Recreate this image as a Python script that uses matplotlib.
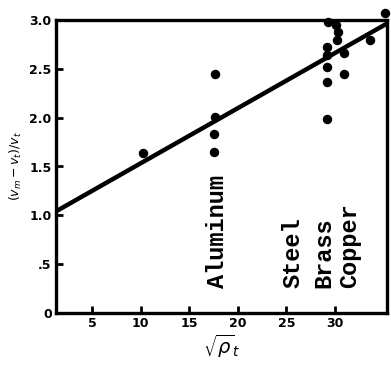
import matplotlib
matplotlib.use("Agg")
import matplotlib.pyplot as plt
import numpy as np

sqrt_rho = [10.25, 17.65, 17.65, 17.6, 17.6,
            29.2, 29.2, 29.2, 29.2, 29.2, 29.3,
            30.1, 30.2, 30.3, 30.9, 30.9, 33.6, 35.1]
ratio = [1.64, 2.45, 2.01, 1.83, 1.65,
         2.72, 2.64, 2.52, 2.36, 1.99, 2.98,
         2.95, 2.80, 2.88, 2.66, 2.45, 2.80, 3.07]

# straight line fit drawn through the points
fit_intercept = 0.967
fit_slope = 0.0565

materials = ["Aluminum", "Steel", "Brass", "Copper"]
material_x = [17.96, 25.7, 28.8, 31.5]

x_ticks = [5, 10, 15, 20, 25, 30]
y_ticks = [0, 0.5, 1.0, 1.5, 2.0, 2.5, 3.0]
y_tick_labels = ["0", ".5", "1.0", "1.5", "2.0", "2.5", "3.0"]

fig = plt.figure(figsize=(3.91, 3.70), dpi=100)
ax = fig.add_axes([0.143, 0.154, 0.847, 0.792])

xlim = (1.3, 35.35)
xs = np.array(xlim)
ax.plot(xs, fit_intercept + fit_slope * xs, color="black", lw=3.2,
        solid_capstyle="round")
ax.plot(sqrt_rho, ratio, "o", color="black", ms=5.8, clip_on=False)

for name, x in zip(materials, material_x):
    ax.text(x, 0.26, name, rotation=90, ha="center", va="bottom",
            family="Liberation Mono", fontweight="bold", fontsize=17,
            color="black")

ax.set_xlim(*xlim)
ax.set_ylim(0, 3.0)
ax.set_xticks(x_ticks)
ax.set_xticklabels([str(t) for t in x_ticks], fontsize=9, fontweight="bold")
ax.set_yticks(y_ticks)
ax.set_yticklabels(y_tick_labels, fontsize=9, fontweight="bold")
ax.tick_params(direction="in", length=5, width=2, pad=3, colors="black")

for side in ax.spines.values():
    side.set_linewidth(2.4)
    side.set_color("black")

ax.set_xlabel(r"$\sqrt{\rho}_t$", fontsize=14, labelpad=2)
ax.set_ylabel(r"$(v_m - v_t)/v_t$", fontsize=9, labelpad=4)

fig.savefig("out.png", dpi=100)
